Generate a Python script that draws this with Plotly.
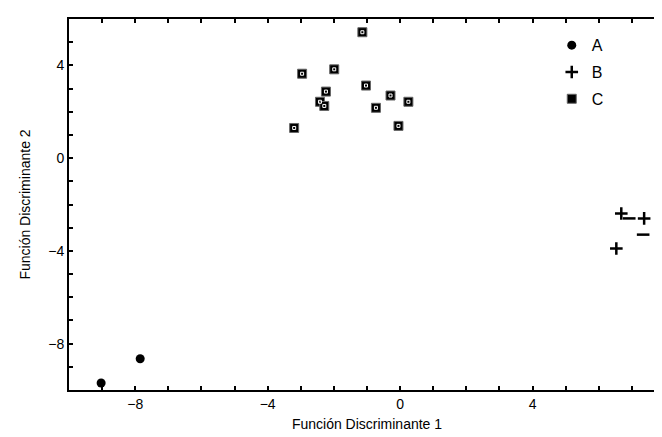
import plotly.graph_objects as go

# Data
a_x = [-9.03, -7.85]
a_y = [-9.70, -8.65]

b_x = [6.68, 6.92, 7.37, 7.34, 6.53]
b_y = [-2.39, -2.60, -2.60, -3.30, -3.90]
b_sym = ["cross-thin", "line-ew", "cross-thin", "line-ew", "cross-thin"]

c_x = [-1.14, -2.96, -1.99, -2.24, -1.03, -0.29, 0.25, -2.42, -2.29, -0.73, -3.20, -0.05]
c_y = [5.43, 3.64, 3.83, 2.87, 3.13, 2.70, 2.43, 2.43, 2.25, 2.17, 1.30, 1.39]

x_ticks = [-8, -4, 0, 4, 8]
y_ticks = [-8, -4, 0, 4]

font = "Liberation Sans, Arial, sans-serif"

fig = go.Figure()
fig.add_trace(go.Scatter(
    x=a_x, y=a_y, mode="markers", name="A", legendgroup="a",
    marker=dict(symbol="circle", size=9, color="black"),
))
fig.add_trace(go.Scatter(
    x=b_x, y=b_y, mode="markers", name="B", legendgroup="b",
    marker=dict(symbol=b_sym, size=9, color="black",
                line=dict(color="black", width=2.5)),
))
fig.add_trace(go.Scatter(
    x=c_x, y=c_y, mode="markers", name="C", legendgroup="c",
    marker=dict(symbol="square", size=9, color="black",
                line=dict(color="#666", width=1)),
))
# inner white corner mark of C markers
fig.add_trace(go.Scatter(
    x=c_x, y=c_y, mode="markers", showlegend=False, hoverinfo="skip",
    legendgroup="c",
    marker=dict(symbol="square-open", size=3, color="white",
                line=dict(color="white", width=1)),
))

axis_common = dict(
    showgrid=False, zeroline=False, showline=True, linecolor="black",
    linewidth=2, mirror="allticks", ticks="inside", ticklen=4, tickwidth=1.5,
    tickcolor="black", tickfont=dict(family=font, size=14, color="black"),
    minor=dict(ticks="inside", ticklen=4, tickwidth=1.5, tickcolor="black", dtick=1),
    automargin=False,
)

fig.update_xaxes(range=[-10, 8], tickvals=x_ticks,
                 title=dict(text="Función Discriminante 1", standoff=8,
                            font=dict(family=font, size=14, color="black")),
                 **axis_common)
fig.update_yaxes(range=[-10, 6], tickvals=y_ticks,
                 title=dict(text="Función Discriminante 2", standoff=14,
                            font=dict(family=font, size=14, color="black")),
                 **axis_common)

fig.update_layout(
    width=662, height=437,
    margin=dict(l=61, r=5, t=11, b=55),
    plot_bgcolor="white", paper_bgcolor="white",
    font=dict(family=font, size=14, color="black"),
    legend=dict(x=0.81, y=0.975, xanchor="left", yanchor="top",
                bgcolor="rgba(0,0,0,0)", font=dict(family=font, size=16),
                tracegroupgap=3),
)

fig.write_html("out.html")
